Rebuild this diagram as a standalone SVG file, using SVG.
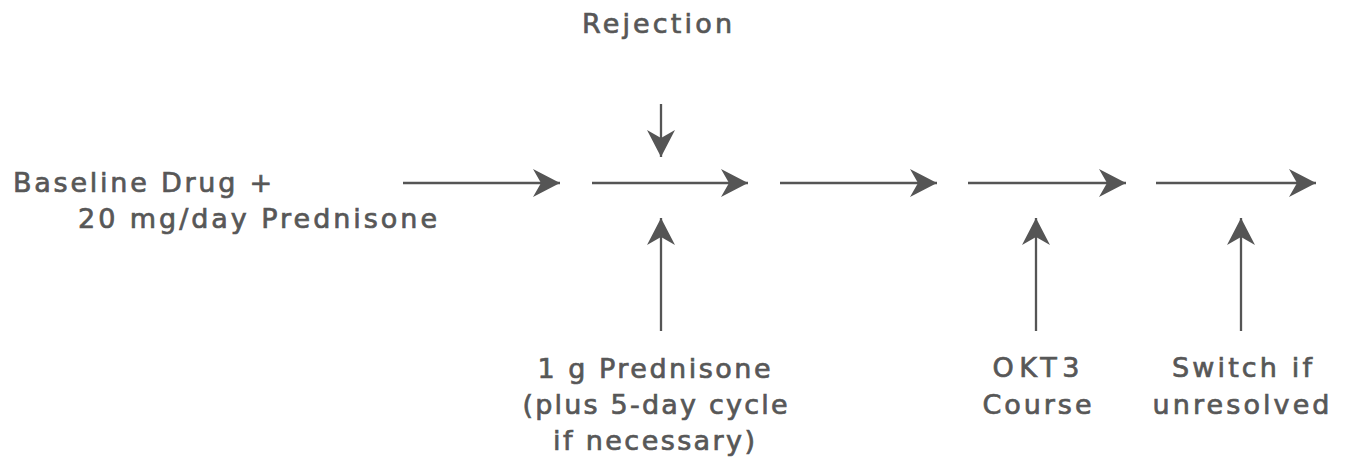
<svg xmlns="http://www.w3.org/2000/svg" width="1353" height="464" viewBox="0 0 1353 464">
<defs>
<marker id="ah" markerWidth="28" markerHeight="30" refX="27" refY="15" orient="auto" markerUnits="userSpaceOnUse">
<path d="M0,1 L27,15 L0,29 L8,15 Z" fill="#555"/>
</marker>
</defs>
<style>
text{font-family:"DejaVu Sans","Liberation Sans",Arial,sans-serif;font-size:27px;fill:#575757;stroke:#575757;stroke-width:0.7;}
.c{text-anchor:middle;}
line{stroke:#555;stroke-width:2.3;}
</style>
<rect width="1353" height="464" fill="#fff"/>
<g id="baseline">
<text x="13" y="192" textLength="259" lengthAdjust="spacing">Baseline Drug +</text>
<text x="78" y="228" textLength="359" lengthAdjust="spacing">20 mg/day Prednisone</text>
</g>
<g id="rejection"><text class="c" x="657" y="33" textLength="150" lengthAdjust="spacing">Rejection</text></g>
<g id="prednisone">
<text class="c" x="654" y="378" textLength="233" lengthAdjust="spacing">1 g Prednisone</text>
<text class="c" x="655" y="414" textLength="265" lengthAdjust="spacing">(plus 5-day cycle</text>
<text class="c" x="654" y="450" textLength="202" lengthAdjust="spacing">if necessary)</text>
</g>
<g id="okt3">
<text class="c" x="1036" y="377" textLength="87" lengthAdjust="spacing">OKT3</text>
<text class="c" x="1037" y="414" textLength="109" lengthAdjust="spacing">Course</text>
</g>
<g id="switch">
<text class="c" x="1242" y="377" textLength="140" lengthAdjust="spacing">Switch if</text>
<text class="c" x="1241" y="414" textLength="177" lengthAdjust="spacing">unresolved</text>
</g>
<g id="connectors">
<line x1="403" y1="183" x2="560" y2="183" marker-end="url(#ah)"/>
<line x1="592" y1="183" x2="748" y2="183" marker-end="url(#ah)"/>
<line x1="780" y1="183" x2="937" y2="183" marker-end="url(#ah)"/>
<line x1="968" y1="183" x2="1126" y2="183" marker-end="url(#ah)"/>
<line x1="1156" y1="183" x2="1316" y2="183" marker-end="url(#ah)"/>
<line x1="661" y1="104" x2="661" y2="157" marker-end="url(#ah)"/>
<line x1="661" y1="331" x2="661" y2="218" marker-end="url(#ah)"/>
<line x1="1036" y1="331" x2="1036" y2="218" marker-end="url(#ah)"/>
<line x1="1241" y1="331" x2="1241" y2="218" marker-end="url(#ah)"/>
</g>
</svg>
